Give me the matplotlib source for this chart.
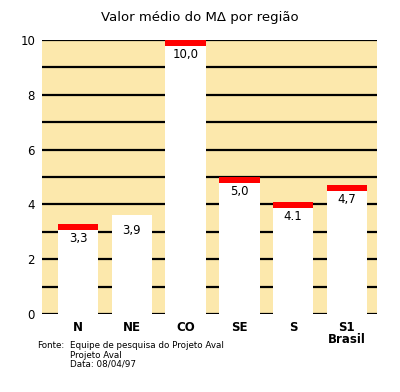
import matplotlib.pyplot as plt

regioes = ['N', 'NE', 'CO', 'SE', 'S', 'S1\nBrasil']
altura = [3.3, 3.6, 10.0, 5.0, 4.1, 4.7]
rotulos = ['3,3', '3,9', '10,0', '5,0', '4.1', '4,7']
tem_topo = [True, False, True, True, True, True]
yticks = [0, 2, 4, 6, 8, 10]

fig = plt.figure(figsize=(4.0, 3.92), dpi=100)
ax = fig.add_axes([42/400, 1-314/392, 335/400, 274/392])
ax.set_facecolor('#FCE8AC')

x = list(range(len(regioes)))
# linhas horizontais atrás das barras
for v in range(0, 11):
    ax.axhline(v, color='black', lw=1.6, zorder=1)

ax.bar(x, altura, width=0.75, color='white', zorder=2)
for i in x:
    if tem_topo[i]:
        ax.bar(i, 0.22, bottom=altura[i] - 0.22, width=0.75, color='#FF0000', zorder=3)
    ax.text(i, altura[i] - 0.3, rotulos[i], ha='center', va='top', fontsize=8.5, zorder=4)

ax.set_xlim(-0.67, 5.56)
ax.set_ylim(0, 10)
ax.set_xticks(x)
ax.set_xticklabels(regioes, fontweight='bold', fontsize=8.5, linespacing=0.9)
ax.set_yticks(yticks)
ax.set_yticklabels([str(v) for v in yticks], fontsize=8.5)
ax.tick_params(length=0, pad=5)
for s in ax.spines.values():
    s.set_visible(False)

fig.text(200/400, 1-18/392, 'Valor médio do M\u0394 por região', ha='center', va='center', fontsize=9.5)
fig.text(37/400, 1-346/392, 'Fonte:', ha='left', va='center', fontsize=6.3)
fig.text(70/400, 1-346/392, 'Equipe de pesquisa do Projeto Aval', ha='left', va='center', fontsize=6.3)
fig.text(70/400, 1-355/392, 'Projeto Aval', ha='left', va='center', fontsize=6.3)
fig.text(70/400, 1-364/392, 'Data: 08/04/97', ha='left', va='center', fontsize=6.3)

fig.savefig('out.png', dpi=100)
